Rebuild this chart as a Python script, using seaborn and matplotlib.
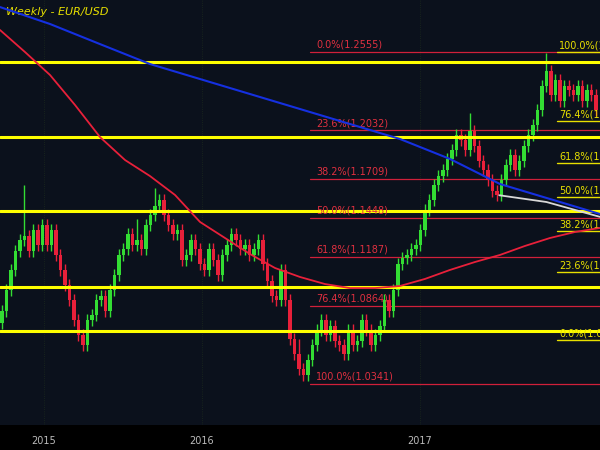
import matplotlib
matplotlib.use("Agg")
import matplotlib.pyplot as plt
import seaborn as sns
import numpy as np

closes = [1.083,1.097,1.110,1.123,1.130,1.133,1.123,1.137,1.127,1.140,
          1.127,1.137,1.120,1.110,1.100,1.090,1.077,1.067,1.060,1.077,
          1.080,1.090,1.093,1.083,1.097,1.107,1.120,1.124,1.134,1.127,
          1.130,1.124,1.140,1.147,1.153,1.157,1.147,1.140,1.134,1.137,
          1.117,1.120,1.130,1.124,1.114,1.110,1.124,1.117,1.107,1.120,
          1.127,1.134,1.130,1.124,1.127,1.120,1.124,1.130,1.114,1.103,
          1.093,1.090,1.110,1.090,1.064,1.054,1.044,1.040,1.050,1.060,
          1.070,1.077,1.067,1.073,1.063,1.060,1.054,1.070,1.060,1.063,
          1.077,1.070,1.060,1.067,1.073,1.090,1.083,1.097,1.114,1.118,
          1.120,1.124,1.127,1.137,1.150,1.157,1.167,1.173,1.177,1.184,
          1.190,1.200,1.197,1.190,1.203,1.193,1.183,1.177,1.170,1.163,
          1.160,1.170,1.180,1.187,1.177,1.183,1.193,1.200,1.207,1.217,
          1.233,1.243,1.227,1.237,1.223,1.233,1.230,1.227,1.233,1.223,1.230,1.227,1.217]
first_open = 1.075
wick = 0.004
spikes = {5: 0.030, 34: 0.008, 30: 0.010, 104: 0.008, 121: 0.008, 66: 0.006}

# moving averages sampled every ~5.5 weeks across the chart
ma_red = [1.2702,1.2555,1.2402,1.2202,1.1988,1.1835,1.1728,1.1602,1.1422,1.1315,
          1.1208,1.1115,1.1055,1.1008,1.0981,1.0981,1.0995,1.1042,1.1102,1.1155,
          1.1202,1.1262,1.1315,1.1355,1.1382]
ma_blue = [1.2855,1.2742,1.2608,1.2475,1.2375,1.2275,1.2175,1.2075,1.1975,1.1842,
           1.1675,1.1575,1.1475]
trend_idx = [110.5, 121, 133]
trend_val = [1.1600, 1.1555, 1.1455]

yellow_levels = [1.2488, 1.1988, 1.1495, 1.0988, 1.0694]
fib_pct = ["0.0%", "23.6%", "38.2%", "50.0%", "61.8%", "76.4%", "100.0%"]
fib_val = [1.2555, 1.2032, 1.1709, 1.1448, 1.1187, 1.0864, 1.0341]
rfib_pct = ["100.0%", "76.4%", "61.8%", "50.0%", "38.2%", "23.6%", "0.0%"]
rfib_val = [1.2555, 1.2032, 1.1709, 1.1448, 1.1187, 1.0864, 1.0627]
rfib_label_y = [1.2585, 1.2125, 1.1845, 1.1618, 1.1392, 1.1118, 1.0665]
year_labels = ["2015", "2016", "2017"]
year_pos = [9.3, 44.4, 92.9]

sns.set_theme(style="dark")
fig = plt.figure(figsize=(6, 4.5), dpi=100)
fig.patch.set_facecolor("black")
ax = fig.add_axes([0, 25/450, 1, 425/450])
ax.set_facecolor("#0b111c")
ax.set_xlim(-0.44, 132.9)
ax.set_ylim(1.0068, 1.2902)

opens = [first_open] + closes[:-1]
n = len(closes)
for i in range(n):
    o, c = opens[i], closes[i]
    col = "#33dd33" if c >= o else "#e8203a"
    hi = max(o, c) + wick + spikes.get(i, 0)
    lo = min(o, c) - wick
    ax.vlines(i, lo, hi, color=col, lw=1, zorder=3)
    ax.bar(i, max(abs(c - o), 0.0008), bottom=min(o, c), width=0.7,
           color=col, edgecolor="none", linewidth=0, zorder=4)

for lv in yellow_levels:
    ax.axhline(lv, color="#ffff00", lw=2.2, zorder=5)

for p, v in zip(fib_pct, fib_val):
    ax.plot([68.4, 133], [v, v], color="#d0203a", lw=0.9, zorder=2)
    ax.text(69.8, v + 0.0015, f"{p}({v:.4f})", color="#e03040", fontsize=7, va="bottom", zorder=6)

for p, v, ly in zip(rfib_pct, rfib_val, rfib_label_y):
    ax.plot([123.3, 133], [ly - 0.003, ly - 0.003], color="#e8e000", lw=1, zorder=6)
    ax.text(123.8, ly - 0.002, f"{p}({v:.4f})", color="#e8e000", fontsize=7, va="bottom", zorder=6, clip_on=True)

red_x = np.linspace(-0.44, 132.9, len(ma_red))
blue_x = np.linspace(-0.44, 132.9, len(ma_blue))
sns.lineplot(x=red_x, y=ma_red, ax=ax, color="#e8203a", lw=1.3, zorder=7)
sns.lineplot(x=blue_x, y=ma_blue, ax=ax, color="#1530e0", lw=1.5, zorder=7)
sns.lineplot(x=trend_idx, y=trend_val, ax=ax, color="#d8d8d8", lw=1.3, zorder=7)

ax.text(1, 1.2825, "Weekly - EUR/USD", color="#e8e000", fontsize=8, style="italic", va="center")

ax.grid(True, color="#1c2a1c", ls=":", lw=0.6)
ax.set_yticks([])
ax.set_xticks(year_pos)
ax.set_xticklabels(year_labels, color="#bbbbbb", fontsize=7)
ax.tick_params(axis="x", length=4, color="#888888", pad=4, direction="out")
for s in ax.spines.values():
    s.set_visible(False)
fig.savefig("out.png", dpi=100, facecolor="black")
